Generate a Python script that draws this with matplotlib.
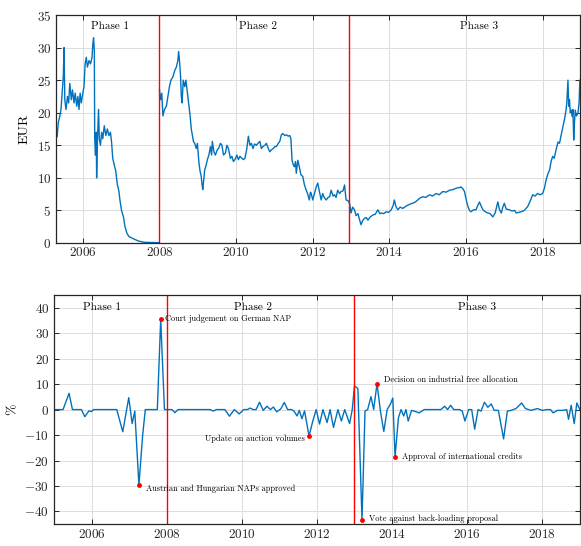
import matplotlib
matplotlib.use("Agg")
import matplotlib.pyplot as plt

plt.rcParams["font.family"] = "serif"
plt.rcParams["font.serif"] = ["cmr10"]
plt.rcParams["mathtext.fontset"] = "cm"
plt.rcParams["axes.formatter.use_mathtext"] = True
plt.rcParams["axes.unicode_minus"] = True

# ------------------------------------------------------------
# EUA price (EUR), phase 1 and phases 2-3
# ------------------------------------------------------------
p1_year = [2005.30, 2005.33, 2005.36, 2005.40, 2005.43, 2005.46, 2005.49, 2005.51,
           2005.53, 2005.56, 2005.60, 2005.63, 2005.66, 2005.70, 2005.73, 2005.77,
           2005.80, 2005.84, 2005.87, 2005.90, 2005.93, 2005.96, 2006.00, 2006.03,
           2006.06, 2006.09, 2006.12, 2006.16, 2006.20, 2006.24, 2006.26, 2006.28,
           2006.30, 2006.31, 2006.33, 2006.35, 2006.36, 2006.38, 2006.41, 2006.43,
           2006.46, 2006.49, 2006.52, 2006.56, 2006.60, 2006.64, 2006.68, 2006.72,
           2006.75, 2006.78, 2006.82, 2006.86, 2006.90, 2006.94, 2006.97, 2007.01,
           2007.06, 2007.10, 2007.15, 2007.20, 2007.30, 2007.45, 2007.60, 2007.98]
p1_price = [17.5, 16.3, 18.5, 19.5, 20.5, 23.0, 25.5, 30.0,
            22.0, 20.5, 22.5, 21.5, 24.5, 22.0, 23.5, 21.5,
            23.0, 21.0, 22.5, 20.5, 23.0, 21.5, 23.0, 24.0,
            27.5, 28.5, 27.0, 28.0, 27.5, 28.5, 30.5, 31.5,
            29.5, 16.0, 13.5, 17.0, 10.0, 15.5, 20.5, 16.0,
            15.0, 17.0, 16.0, 18.0, 16.5, 17.5, 16.5, 17.0,
            15.5, 13.0, 12.0, 11.0, 9.0, 8.0, 6.5, 5.0,
            4.0, 2.5, 1.5, 1.0, 0.7, 0.3, 0.1, 0.05]

p23_year = [2008.00, 2008.03, 2008.06, 2008.09, 2008.13, 2008.18, 2008.22, 2008.26,
            2008.30, 2008.35, 2008.40, 2008.44, 2008.48, 2008.50, 2008.53, 2008.55,
            2008.57, 2008.59, 2008.62, 2008.66, 2008.69, 2008.72, 2008.74, 2008.78,
            2008.80, 2008.83, 2008.86, 2008.89, 2008.92, 2008.96, 2008.99, 2009.03,
            2009.06, 2009.09, 2009.11, 2009.13, 2009.16, 2009.18, 2009.22, 2009.25,
            2009.29, 2009.33, 2009.36, 2009.38, 2009.42, 2009.46, 2009.50, 2009.55,
            2009.59, 2009.63, 2009.67, 2009.72, 2009.76, 2009.80, 2009.85, 2009.89,
            2009.93, 2009.97, 2010.02, 2010.06, 2010.10, 2010.15, 2010.19, 2010.23,
            2010.28, 2010.32, 2010.36, 2010.40, 2010.44, 2010.48, 2010.53, 2010.57,
            2010.62, 2010.66, 2010.70, 2010.75, 2010.79, 2010.84, 2010.88, 2010.92,
            2010.97, 2011.01, 2011.05, 2011.10, 2011.14, 2011.18, 2011.22, 2011.27,
            2011.31, 2011.36, 2011.40, 2011.43, 2011.46, 2011.49, 2011.52, 2011.55,
            2011.57, 2011.61, 2011.65, 2011.69, 2011.74, 2011.78, 2011.83, 2011.87,
            2011.91, 2011.94, 2011.96, 2012.00, 2012.04, 2012.09, 2012.13, 2012.17,
            2012.22, 2012.26, 2012.30, 2012.35, 2012.40, 2012.44, 2012.48, 2012.53,
            2012.57, 2012.61, 2012.65, 2012.70, 2012.74, 2012.79, 2012.83, 2012.87,
            2012.92, 2012.96, 2013.00, 2013.04, 2013.09, 2013.13, 2013.18, 2013.22,
            2013.26, 2013.30, 2013.35, 2013.40, 2013.44, 2013.50, 2013.57, 2013.63,
            2013.70, 2013.75, 2013.79, 2013.85, 2013.92, 2013.98, 2014.05, 2014.10,
            2014.13, 2014.17, 2014.22, 2014.28, 2014.35, 2014.42, 2014.48, 2014.55,
            2014.61, 2014.68, 2014.74, 2014.80, 2014.87, 2014.95, 2015.05, 2015.12,
            2015.22, 2015.30, 2015.39, 2015.48, 2015.57, 2015.66, 2015.74, 2015.82,
            2015.87, 2015.92, 2015.96, 2016.01, 2016.05, 2016.09, 2016.13, 2016.20,
            2016.26, 2016.31, 2016.35, 2016.40, 2016.44, 2016.50, 2016.57, 2016.63,
            2016.70, 2016.76, 2016.83, 2016.87, 2016.92, 2016.96, 2017.00, 2017.05,
            2017.13, 2017.20, 2017.27, 2017.31, 2017.38, 2017.44, 2017.52, 2017.61,
            2017.68, 2017.74, 2017.80, 2017.87, 2017.93, 2018.00, 2018.05, 2018.09,
            2018.13, 2018.18, 2018.22, 2018.26, 2018.30, 2018.35, 2018.40, 2018.44,
            2018.48, 2018.53, 2018.57, 2018.61, 2018.63, 2018.66, 2018.68, 2018.70,
            2018.72, 2018.74, 2018.77, 2018.79, 2018.81, 2018.83, 2018.85, 2018.88,
            2018.92, 2018.95, 2018.97]
p23_price = [23.5, 22.0, 23.0, 19.5, 20.5, 21.0, 22.5, 24.0,
             25.0, 25.5, 26.5, 27.0, 28.0, 29.4, 27.5, 25.6,
             22.5, 21.5, 25.0, 24.0, 25.0, 23.5, 22.5, 20.5,
             19.5, 17.5, 16.5, 15.5, 15.3, 14.5, 15.3, 12.3,
             11.0, 10.2, 9.0, 8.2, 10.0, 11.2, 12.0, 12.8,
             13.5, 14.8, 13.5, 15.6, 14.0, 13.5, 14.2, 14.6,
             15.3, 15.0, 13.5, 13.8, 15.0, 14.5, 13.0, 13.3,
             12.5, 12.8, 13.5, 12.8, 13.3, 13.0, 12.8, 13.0,
             14.5, 16.4, 15.0, 15.3, 14.5, 15.2, 15.0, 15.3,
             15.6, 14.5, 14.8, 15.0, 15.3, 14.5, 14.0, 14.3,
             14.5, 14.8, 14.8, 15.3, 15.6, 16.6, 16.8, 16.5,
             16.6, 16.4, 16.5, 16.0, 12.7, 12.0, 11.7, 12.5,
             10.7, 12.7, 11.7, 10.5, 10.2, 9.0, 8.1, 7.5,
             6.6, 7.8, 7.6, 6.6, 7.5, 8.6, 9.2, 8.0,
             6.6, 7.6, 7.0, 6.6, 7.0, 7.1, 8.1, 7.2,
             7.4, 7.0, 8.1, 7.6, 7.9, 8.0, 8.9, 6.6,
             6.5, 6.1, 4.6, 5.5, 5.1, 4.2, 4.5, 3.6,
             2.8, 3.4, 3.8, 3.9, 3.5, 4.0, 4.3, 4.4,
             5.1, 4.5, 4.6, 4.5, 4.8, 4.7, 5.1, 5.8,
             6.6, 5.6, 5.1, 5.5, 5.3, 5.6, 5.8, 6.0,
             6.1, 6.3, 6.6, 6.9, 7.1, 7.0, 7.4, 7.2,
             7.6, 7.4, 7.9, 7.8, 8.1, 8.2, 8.4, 8.5,
             8.6, 8.3, 7.9, 6.5, 5.6, 5.0, 4.8, 5.1,
             5.1, 5.8, 6.3, 5.6, 5.1, 4.8, 4.6, 4.5,
             4.0, 4.6, 6.3, 5.2, 4.6, 5.5, 6.1, 5.2,
             5.1, 4.9, 5.0, 4.6, 4.7, 4.8, 5.0, 5.6,
             6.5, 7.4, 7.2, 7.6, 7.4, 7.6, 8.5, 9.7,
             10.5, 11.2, 12.5, 13.3, 13.0, 14.3, 15.5, 15.3,
             16.5, 17.9, 19.0, 20.4, 21.5, 25.0, 21.0, 22.0,
             20.0, 20.4, 19.4, 20.5, 15.8, 18.5, 20.4, 19.5,
             19.9, 21.5, 25.0]

# ------------------------------------------------------------
# Price change (%) with event markers
# ------------------------------------------------------------
chg_year = [2005.00, 2005.24, 2005.40, 2005.49, 2005.73, 2005.82, 2005.93, 2006.00,
            2006.05, 2006.67, 2006.83, 2006.99, 2007.08, 2007.15, 2007.26, 2007.36,
            2007.43, 2007.75, 2007.84, 2007.94, 2008.14, 2008.22, 2008.30, 2009.16,
            2009.24, 2009.32, 2009.55, 2009.67, 2009.80, 2009.93, 2010.05, 2010.15,
            2010.22, 2010.30, 2010.38, 2010.47, 2010.57, 2010.67, 2010.76, 2010.84,
            2010.93, 2011.04, 2011.13, 2011.22, 2011.32, 2011.39, 2011.47, 2011.53,
            2011.60, 2011.67, 2011.79, 2011.89, 2011.98, 2012.07, 2012.16, 2012.27,
            2012.35, 2012.44, 2012.56, 2012.65, 2012.74, 2012.87, 2012.94, 2013.00,
            2013.09, 2013.20, 2013.28, 2013.35, 2013.44, 2013.51, 2013.60, 2013.69,
            2013.78, 2013.87, 2013.95, 2014.02, 2014.08, 2014.17, 2014.24, 2014.31,
            2014.37, 2014.43, 2014.52, 2014.63, 2014.72, 2014.86, 2015.30, 2015.40,
            2015.48, 2015.56, 2015.64, 2015.80, 2015.87, 2015.94, 2016.04, 2016.12,
            2016.20, 2016.29, 2016.37, 2016.46, 2016.55, 2016.64, 2016.72, 2016.83,
            2016.97, 2017.07, 2017.17, 2017.30, 2017.45, 2017.55, 2017.70, 2017.87,
            2018.00, 2018.12, 2018.22, 2018.29, 2018.40, 2018.55, 2018.65, 2018.70,
            2018.77, 2018.85, 2018.92, 2019.00]
chg_pct = [0.0, 0.0, 6.4, 0.0, 0.0, -2.8, -0.5, -0.8,
           0.0, 0.0, -8.7, 4.7, -5.5, -0.6, -29.6, -10.0,
           0.0, 0.0, 35.5, 0.0, 0.0, -1.2, 0.0, 0.0,
           -0.6, 0.0, 0.0, -2.6, 0.0, -1.7, 0.0, 0.0,
           0.6, 0.0, 0.0, 2.9, -0.3, 1.3, 0.0, 1.0,
           -0.9, 0.3, 2.8, 0.0, 0.0, -0.6, -2.5, -0.3,
           -3.6, -0.5, -10.4, -4.5, 0.0, -5.7, 0.0, -5.1,
           0.0, -7.0, 0.0, -4.5, 0.0, -5.5, 0.0, 9.3,
           8.3, -43.4, -0.6, 0.0, 5.1, 0.0, 10.2, -0.6,
           -8.6, 0.0, 2.0, 4.5, -18.5, -3.2, 0.0, -2.5,
           0.0, -4.5, -0.3, -0.8, -1.3, 0.0, 0.0, 1.3,
           0.0, 1.7, 0.0, 0.0, -0.6, -4.5, 0.0, 0.0,
           -7.7, 0.0, -0.6, 2.9, 0.9, 2.2, -0.3, -0.3,
           -11.5, -0.6, -0.3, 0.4, 2.6, 0.4, -0.3, 0.4,
           -0.3, 0.0, 0.0, -1.3, -0.3, -0.3, 0.0, -3.8,
           1.7, -5.5, 2.6, 0.0]

event_year = [2007.84, 2007.26, 2011.79, 2013.60, 2013.20, 2014.08]
event_pct = [35.5, -29.6, -10.4, 10.2, -43.4, -18.5]
event_text = ["Court judgement on German NAP",
              "Austrian and Hungarian NAPs approved",
              "Update on auction volumes",
              "Decision on industrial free allocation",
              "Vote against back-loading proposal",
              "Approval of international credits"]
# label offset in points (dx, dy) and alignment
event_offset = [(3, 0), (5, -3), (-3, -2), (5, 3), (5, 1), (5, 0)]
event_ha = ["left", "left", "right", "left", "left", "left"]

phase_breaks = [2008.0, 2012.95]
phase_names = ["Phase 1", "Phase 2", "Phase 3"]
phase_x_top = [2006.7, 2010.58, 2016.33]
phase_x_bot = [2006.29, 2010.31, 2016.27]

BLUE = "#0072BD"
GRID = "#dcdcdc"
SPINE = "#262626"
years = [2006, 2008, 2010, 2012, 2014, 2016, 2018]


def style_axes(ax):
    ax.grid(True, color=GRID, linewidth=0.7)
    ax.set_axisbelow(True)
    ax.tick_params(direction="in", top=True, right=True, length=3.5,
                   width=0.7, colors=SPINE, labelsize=9.5)
    ax.tick_params(axis="x", pad=2.5)
    for s in ax.spines.values():
        s.set_color(SPINE)
        s.set_linewidth(0.9)
    ax.set_xticks(years)


fig = plt.figure(figsize=(5.81, 5.46), dpi=100)

# -- top: price --
ax1 = fig.add_axes([0.0964, 0.555, 0.9016, 0.4175])
ax1.plot(p1_year, p1_price, color=BLUE, linewidth=1.0)
ax1.plot(p23_year, p23_price, color=BLUE, linewidth=1.0)
for xb in phase_breaks:
    ax1.axvline(xb, color="red", linewidth=1.0)
ax1.set_xlim(2005.30, 2018.97)
ax1.set_ylim(0, 35)
ax1.set_yticks(range(0, 36, 5))
ax1.set_ylabel("EUR", fontsize=10)
style_axes(ax1)
for name, xp in zip(phase_names, phase_x_top):
    ax1.text(xp, 33.2, name, ha="center", va="center", fontsize=8)

# -- bottom: % change --
ax2 = fig.add_axes([0.093, 0.04, 0.905, 0.4197])
ax2.plot(chg_year, chg_pct, color=BLUE, linewidth=1.0)
ax2.axvline(2008.0, color="red", linewidth=1.0)
ax2.axvline(2013.0, color="red", linewidth=1.0)
ax2.plot(event_year, event_pct, "o", color="red", markersize=2.5, zorder=4)
for xe, ye, txt, off, ha in zip(event_year, event_pct, event_text, event_offset, event_ha):
    ax2.annotate(txt, (xe, ye), xytext=off, textcoords="offset points",
                 ha=ha, va="center", fontsize=6)
ax2.set_xlim(2005.0, 2019.0)
ax2.set_ylim(-45, 45)
ax2.set_yticks(range(-40, 41, 10))
ax2.set_ylabel("%", fontsize=10)
style_axes(ax2)
for name, xp in zip(phase_names, phase_x_bot):
    ax2.text(xp, 40, name, ha="center", va="center", fontsize=8)

fig.savefig("out.png", dpi=100)
